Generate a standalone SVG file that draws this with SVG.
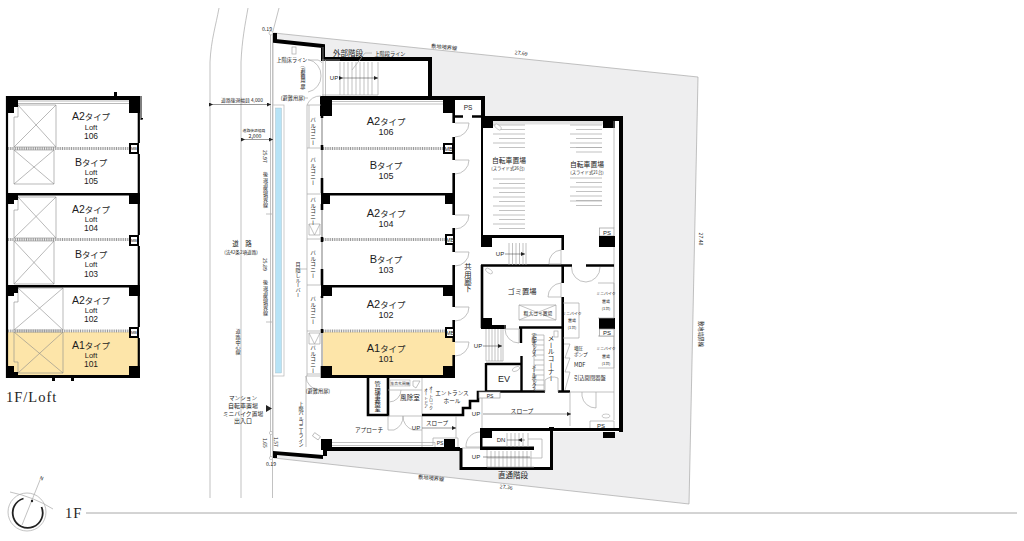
<svg xmlns="http://www.w3.org/2000/svg" xmlns:xlink="http://www.w3.org/1999/xlink" width="1024" height="541" viewBox="0 0 1024 541">
<style>
text{font-family:"Noto Sans CJK JP","Noto Sans",sans-serif;fill:#1c1c1c}
.l{font-family:"Liberation Sans","Noto Sans CJK JP",sans-serif;text-anchor:middle}
.s{font-size:5.2px;text-anchor:middle}
.v{writing-mode:vertical-rl;font-size:5.1px}
.vb{writing-mode:vertical-rl;font-size:5.7px}
.vm{writing-mode:vertical-rl;font-size:7.3px}
.g{fill:none;stroke:#a8a8a8;stroke-width:.7}
.g2{fill:none;stroke:#8a8a8a;stroke-width:.6}
.k{fill:none;stroke:#000}
.w{fill:#000}
.dot{fill:none;stroke:#9a9a9a;stroke-width:3;stroke-dasharray:1 .8}
.win{fill:none;stroke:#bdbdbd;stroke-width:2}
.a{fill:none;stroke:#333;stroke-width:.5}
.mb{fill:#fff;stroke:#000;stroke-width:2}
.ps{fill:#fff;stroke:#999;stroke-width:.7}
.ser{font-family:"Liberation Serif",serif;font-size:14.5px;letter-spacing:1px;fill:#222}
.j{font-size:8.4px}
</style>
<defs>
<marker id="ah" markerWidth="5" markerHeight="4" refX="4" refY="2" orient="auto" markerUnits="userSpaceOnUse"><path d="M0 0L4 2L0 4z" fill="#222"/></marker>
<marker id="as" markerWidth="5" markerHeight="4" refX="1" refY="2" orient="auto-start-reverse" markerUnits="userSpaceOnUse"><path d="M4 0L0 2L4 4z" fill="#222"/></marker>
<path id="door" d="M0 0H14A14 14 0 0 1 0 14" class="g"/>
<path id="stripe" d="M0 0h32M6 4.500h26M0 9h32M6 13.500h26M0 18h32M6 22.500h26" class="g"/>
</defs>

<g id="site">
<path d="M274 33L698 77L689 504L274 458Z" fill="#eeeeef" stroke="#a8a8a8" stroke-width=".7"/>
<path d="M274 42L322 47V60H430V98H483V117H623V432H553V470H460V449H323V456L274 452Z" fill="#fff"/>
</g>

<g id="road">
<path class="g" d="M219 8C216 25 211 40 210 62V498M248 8C245 25 242 40 241 62V498"/>
<path class="g" d="M279 8L272.500 33V498M270.500 33V458"/>
<circle cx="271" cy="33" r="2" fill="#fff" stroke="#a8a8a8" stroke-width=".6"/>
<circle cx="271" cy="433" r="1.600" fill="#fff" stroke="#a8a8a8" stroke-width=".6"/>
<circle cx="271" cy="458" r="1.600" fill="#fff" stroke="#a8a8a8" stroke-width=".6"/>
<rect x="273" y="105" width="11" height="271" fill="#fff" stroke="#b5b5b5" stroke-width=".7"/>
<rect x="275.500" y="108" width="6" height="265" fill="#b7e3f6" stroke="#9fb8c4" stroke-width=".4"/>
</g>

<g id="loft-plan">
<rect x="8" y="332" width="130" height="43" fill="#fde5a9"/>
<g class="g2">
<path d="M18 105H56V147H14V117H18Z"/><path d="M18 105L56 147M56 105L14 147"/>
<path d="M14 150H54V184H14ZM14 150L54 184M54 150L14 184"/>
<path d="M18 197H56V238H14V210H18Z"/><path d="M18 197L56 238M56 197L14 238"/>
<path d="M14 241H54V284H14ZM14 241L54 284M54 241L14 284"/>
<path d="M18 288H63V330H14V302H18Z"/><path d="M18 288L63 330M63 288L14 330"/>
<path d="M14 332H63V373H18V362H14Z"/><path d="M14 332L63 373M63 332L18 373"/>
<path d="M18 101H129M18 103.500H129"/>
</g>
<path class="k" stroke-width="2.200" d="M7 96V378M138.800 96V143M138.800 154V235M138.800 246V327M138.800 338V378"/>
<path class="dot" d="M8 148.500H129M8 239.500H129M8 331H129"/>
<path d="M6 96H140V113H129V100H18V107H14V113H6ZM6 193H140V204H129V195.500H18V200H14V204H6ZM6 285H140V296H129V287.500H18V293H14V296H6ZM6 366H14V372H18V375H129V366H140V378H6Z" class="w"/>
<rect x="114" y="92" width="3" height="4" class="w"/>
<rect x="52" y="378" width="3" height="3" class="w"/><rect x="71" y="378" width="3" height="3" class="w"/>
<rect x="141" y="118" width="2" height="1.500" class="w"/>
<path class="k" stroke-width="1" d="M141 96V120"/>
<g class="mb"><rect x="130" y="144" width="8" height="9"/><rect x="130" y="236" width="8" height="9"/><rect x="130" y="328" width="8" height="9"/></g>
<text class="l" x="134" y="150" font-size="4">MB</text><text class="l" x="134" y="242" font-size="4">MB</text><text class="l" x="134" y="334" font-size="4">MB</text>
<text class="l" x="91" y="120"><tspan font-size="10.500">A2</tspan><tspan class="j">タイプ</tspan></text><text class="l" x="91" y="130" font-size="7.500">Loft</text><text class="l" x="91" y="139" font-size="8.500">106</text>
<text class="l" x="91" y="166"><tspan font-size="10.500">B</tspan><tspan class="j">タイプ</tspan></text><text class="l" x="91" y="175" font-size="7.500">Loft</text><text class="l" x="91" y="184" font-size="8.500">105</text>
<text class="l" x="91" y="213"><tspan font-size="10.500">A2</tspan><tspan class="j">タイプ</tspan></text><text class="l" x="91" y="222" font-size="7.500">Loft</text><text class="l" x="91" y="231" font-size="8.500">104</text>
<text class="l" x="91" y="258"><tspan font-size="10.500">B</tspan><tspan class="j">タイプ</tspan></text><text class="l" x="91" y="267" font-size="7.500">Loft</text><text class="l" x="91" y="277" font-size="8.500">103</text>
<text class="l" x="91" y="304"><tspan font-size="10.500">A2</tspan><tspan class="j">タイプ</tspan></text><text class="l" x="91" y="313" font-size="7.500">Loft</text><text class="l" x="91" y="322" font-size="8.500">102</text>
<text class="l" x="91" y="349"><tspan font-size="10.500">A1</tspan><tspan class="j">タイプ</tspan></text><text class="l" x="91" y="358" font-size="7.500">Loft</text><text class="l" x="91" y="367" font-size="8.500">101</text>
<text class="ser" x="6" y="402">1F/Loft</text>
</g>

<g id="units">
<rect x="323" y="332" width="132" height="43" fill="#fde5a9"/>
<path class="dot" d="M323 148.500H444M323 239.500H445M323 331H445"/>
<path class="g" d="M332 101.500H443M332 104H443"/>
<path class="win" d="M322 116V145M322 150V178M322 210V237M322 242V269M322 296V329M322 333V366"/>
<path class="k" stroke-width="2.600" d="M322 113V118M322 145V150M322 178V193M322 204V210M322 237V242M322 269V285M322 296V298M322 329V333M322 366V378"/>
<path class="k" stroke-width="2.600" d="M453.700 96V123M453.700 137V160M453.700 173V215M453.700 228V252M453.700 265V307M453.700 320V342M453.700 355V378"/>
<path class="w" d="M320 96H485V116H481V100H455V113H443V100H332V116H320ZM321 193H455V204H445V195.500H330V204H321ZM321 285H455V296H443V287.500H332V296H321ZM321 366H332V375H443V366H455V378H321Z"/>
<path class="k" d="M455 116.500H463M472 116.500H481" stroke-width="2.500"/>
<g class="mb"><rect x="444" y="144" width="9" height="9"/><rect x="446" y="235" width="8" height="9"/><rect x="446" y="328" width="8" height="9"/></g>
<text class="l" x="448.500" y="151" font-size="5.500">MB</text><text class="l" x="450" y="242" font-size="5.500">MB</text><text class="l" x="450" y="335" font-size="5.500">MB</text>
<text class="l" x="468" y="110" font-size="6.500">PS</text>
<use xlink:href="#door" x="455" y="123"/><use xlink:href="#door" x="455" y="160"/><use xlink:href="#door" x="455" y="215"/><use xlink:href="#door" x="455" y="252"/><use xlink:href="#door" x="455" y="307"/><use xlink:href="#door" x="455" y="342"/>
<text class="l" x="386" y="125"><tspan font-size="11">A2</tspan><tspan class="j">タイプ</tspan></text><text class="l" x="386" y="135" font-size="9">106</text>
<text class="l" x="386" y="169"><tspan font-size="11">B</tspan><tspan class="j">タイプ</tspan></text><text class="l" x="386" y="179" font-size="9">105</text>
<text class="l" x="386" y="217"><tspan font-size="11">A2</tspan><tspan class="j">タイプ</tspan></text><text class="l" x="386" y="227" font-size="9">104</text>
<text class="l" x="386" y="263"><tspan font-size="11">B</tspan><tspan class="j">タイプ</tspan></text><text class="l" x="386" y="273" font-size="9">103</text>
<text class="l" x="386" y="308"><tspan font-size="11">A2</tspan><tspan class="j">タイプ</tspan></text><text class="l" x="386" y="318" font-size="9">102</text>
<text class="l" x="386" y="352"><tspan font-size="11">A1</tspan><tspan class="j">タイプ</tspan></text><text class="l" x="386" y="362" font-size="9">101</text>
</g>

<g id="balcony">
<path class="g" d="M307 105V376M309 105V148M307 105H321M307 148H321M307 194H321M307 239H321M307 285H321M307 331H321M307 374H321"/>
<path class="g" d="M309 224H320V235H309ZM309 224L314.500 235L320 224M309 333H320V344H309ZM309 333L314.500 344L320 333"/>
<text class="vb" x="313" y="117">バルコニー</text><text class="vb" x="313" y="157">バルコニー</text><text class="vb" x="313" y="197">バルコニー</text><text class="vb" x="313" y="250">バルコニー</text><text class="vb" x="313" y="296">バルコニー</text><text class="vb" x="313" y="345">バルコニー</text>
<path class="g" d="M306 376V447M306 376H320M306 376A14 14 0 0 0 320 390"/>
<text class="s" x="318" y="392.500">(避難用扉)</text>
<path class="g" d="M307 269H298"/>
<text class="v" x="298" y="262">目隠しルーバー</text>
</g>

<g id="outer-stairs">
<path class="k" stroke-width="4" d="M275 33V41L323 46V59H430V98"/>
<path class="g" d="M323 47V96M325.500 60V96M321 76A16 16 0 0 0 308 59.500M321 76A16 16 0 0 1 308 92M321 96A14 14 0 0 0 307 105M322 60H340M322 95H378"/>
<path class="g" d="M340 62V95M344 62V95M348 62V95M352 62V95M356 62V95M360 62V95M364 62V95M368 62V95M372 62V95M378 62V95M352 70L365 53H372"/>
<path class="a" d="M342 78H378" marker-end="url(#ah)" marker-start="url(#as)"/>
<text class="l" x="334" y="80" font-size="6">UP</text>
<text class="s" x="348" y="56" style="font-size:7.500px">外部階段</text>
<text class="s" x="390" y="56">上階段ライン</text>
<text class="s" x="292" y="62">上階床ライン</text>
<path class="g" d="M308 60H318Q321 61 322 63"/>
<rect x="292" y="47" width="4" height="7" class="g"/>
<text class="v" x="303" y="66">(避難用扉)</text>
<text class="s" x="293" y="100">(避難用扉)</text><path class="g" d="M304 98H308"/>
</g>

<g id="bike-room">
<path class="k" stroke-width="2" d="M482 116V236"/>
<rect x="481" y="116" width="142" height="5" class="w"/>
<path class="w" d="M481 118H493V128H483V120H481ZM603 118H615V128H603ZM481 235H564V238H492V247H481Z"/>
<rect x="493" y="121" width="110" height="3.500" fill="#e3e3e3"/>
<path class="g" d="M614 121V228M614 247V420"/>
<path d="M619 116H623V432H619Z" class="w"/>
<use xlink:href="#stripe" x="493" y="125"/><use xlink:href="#stripe" x="493" y="179"/><use xlink:href="#stripe" x="493" y="206"/><use xlink:href="#stripe" x="570" y="125"/><use xlink:href="#stripe" x="570" y="178"/>
<path class="g" d="M570 147.500h32M576 152h26M570 201h32M576 205.500h26"/>
<ellipse cx="498" cy="127" rx="4" ry="2" transform="rotate(40 498 127)" fill="#fff" stroke="#999" stroke-width=".5"/>
<text class="s" x="509" y="163" style="font-size:6.800px">自転車置場</text><text class="s" x="508" y="170" style="font-size:4.300px">(スライド式26台)</text>
<text class="s" x="587" y="167" style="font-size:6.800px">自転車置場</text><text class="s" x="587" y="174" style="font-size:4.300px">(スライド式21台)</text>
<rect x="599.500" y="228" width="14.500" height="8" class="ps"/>
<text class="l" x="607" y="235" font-size="6">PS</text>
<path class="w" d="M599 236H615V247H599ZM599 318H615V329H599Z"/>
</g>

<g id="mid-core">
<path class="k" stroke-width="2.600" d="M562.700 238V250M562.700 265V283M562.700 297V392"/>
<path class="k" stroke-width="2.600" d="M481 265.500H572M586 265.500H614"/>
<path class="g" d="M509 243V265M512.500 243V265M516 243V265M519.500 243V265M523 243V265M526 243V265"/>
<path class="a" d="M505 254H525" marker-end="url(#ah)"/><text class="l" x="500" y="256" font-size="6">UP</text>
<path class="g" d="M549 264A13 13 0 0 1 561 250V264Z"/>
<path class="g" d="M571.500 267A14.500 14.500 0 0 0 586 282A14.500 14.500 0 0 0 600 267"/>
<path class="k" d="M482 265V328M481 327.500H505M519 327.500H563" stroke-width="2.600"/>
<path class="w" d="M481 318H492V325H506V329H481Z"/>
<ellipse cx="489" cy="271" rx="4" ry="2" transform="rotate(35 489 271)" fill="#fff" stroke="#999" stroke-width=".5"/>
<text class="s" x="522" y="294" style="font-size:7.300px">ゴミ置場</text>
<path class="g" d="M519 305H556V320H519ZM519 305L556 320M556 305L519 320"/>
<text class="s" x="538" y="315" style="font-size:4.800px">粗大ゴミ置場</text>
<path class="g" d="M561 283A14 14 0 0 0 548 297H561Z"/>
<path class="g" d="M505 325V329H519V343A14 14 0 0 1 505 329"/>
<path class="k" stroke-width="2.400" d="M521 328V343M486 364H522M486 363V392M521.500 356V392M486 391.500H545M558 391.500H570"/>
<path class="g" d="M486 329V361H503V329M489 329V361M492 329V361M495 329V361M498 329V361M501 329V361"/>
<path class="a" d="M483 346H502" marker-end="url(#ah)"/><text class="l" x="478" y="348" font-size="6">UP</text>
<text class="l" x="504" y="382" font-size="9">EV</text>
<ellipse cx="516" cy="369" rx="4" ry="2" transform="rotate(-25 516 369)" fill="#fff" stroke="#999" stroke-width=".5"/>
<path class="g" d="M534 335V390H544V335ZM534 340h10M534 345h10M534 350h10M534 355h10M534 360h10M534 365h10M534 370h10M534 375h10M534 380h10M534 385h10"/>
<text class="v" x="534" y="333" style="letter-spacing:-1.300px">宅配ボックス</text><text class="v" x="534" y="364" style="letter-spacing:-1.300px">メールボックス</text>
<text class="vm" x="551" y="335" style="font-size:6.700px">メールコーナー</text>
<rect x="554" y="331" width="4" height="6" class="g"/>
<path class="g" d="M545 392V380A13 13 0 0 1 558 378V392"/>
<path class="g" d="M563 303H579V338H563M598 283H614V318H598M598 336H614V368H598"/>
<text class="s" x="572" y="315" style="font-size:3.900px">ミニバイク</text><text class="s" x="572" y="322" style="font-size:3.900px">置場</text><text class="s" x="572" y="329" style="font-size:3.900px">(1台)</text>
<text class="s" x="606" y="295" style="font-size:3.900px">ミニバイク</text><text class="s" x="606" y="303" style="font-size:3.900px">置場</text><text class="s" x="606" y="310" style="font-size:3.900px">(1台)</text>
<text class="s" x="606" y="350" style="font-size:3.900px">ミニバイク</text><text class="s" x="606" y="358" style="font-size:3.900px">置場</text><text class="s" x="606" y="365" style="font-size:3.900px">(1台)</text>
<rect x="599.500" y="329" width="14.500" height="7" class="ps"/>
<text class="l" x="607" y="335" font-size="6">PS</text>
<path class="g" d="M564 344H570L565 358H570L565 372H570L565 390"/>
<text x="574" y="349.500" style="font-size:4.600px">増圧</text><text x="574" y="355.500" style="font-size:4.600px">ポンプ</text>
<text x="574" y="367" font-size="5.500">MDF</text><text x="574" y="380" style="font-size:5.300px">引込開閉器盤</text>
<path class="g" d="M570 392H614M570 392V426M582 392V396A14 14 0 0 0 596 408V392"/>
<text class="vm" x="468" y="263">共用廊下</text>
</g>

<g id="entrance">
<path class="k" stroke-width="2.600" d="M368 378V415H388V378"/>
<text class="vb" x="377.500" y="381" style="font-size:6.200px">管理事務室</text>
<path class="g" d="M388 390H422M388 416H422M422 378V447M394 430H388V416M413 430H422M403 416A14 14 0 0 1 394 430M403 416A14 14 0 0 0 413 430"/>
<path class="g" d="M401 390A12 12 0 0 1 389 402"/>
<rect x="390" y="380" width="20" height="6" fill="#fff" stroke="#999" stroke-width=".5"/>
<text class="s" x="400" y="385" style="font-size:3.800px">集合玄関機</text>
<path class="g" d="M413 381H420L416 388L413 386Z"/>
<text class="s" x="410" y="400" style="font-size:6.600px">風除室</text>
<text class="v" x="426" y="388" style="font-size:4px">オートドア</text><text class="v" x="431" y="386" style="font-size:4px">オートロック</text>
<text class="s" x="452" y="394.500" style="font-size:5.600px">エントランス</text><text class="s" x="452" y="403" style="font-size:5.600px">ホール</text>
<path class="k" stroke-width="2.600" d="M422 415H463V408H470V401H478V392H486"/>
<rect x="479" y="392" width="21" height="6" class="ps"/><text class="l" x="490" y="397.500" font-size="5">PS</text>
<path class="g" d="M482 398V431M456 416V438"/>
<text class="s" x="522" y="413" style="font-size:5.800px">スロープ</text>
<path class="a" d="M483 414H571" marker-end="url(#ah)"/><text class="l" x="476" y="416" font-size="6">UP</text>
<text class="s" x="437" y="425" style="font-size:5.600px">スロープ</text>
<path class="a" d="M422 428H456" marker-end="url(#ah)"/><text class="l" x="416" y="430" font-size="6">UP</text>
<text class="s" x="369" y="432" style="font-size:5.600px">アプローチ</text>
<path class="g" d="M590 431V421H614V431"/>
<text class="l" x="601" y="428" font-size="6">PS</text>
<ellipse cx="606" cy="416" rx="4" ry="2" fill="#fff" stroke="#999" stroke-width=".5"/>
</g>

<g id="lower-stairs">
<path class="w" d="M323 447H460V451H327V456H323ZM321 439H332V450H321ZM444 439H455V450H444Z"/>
<path d="M273 451L323 455V459L277 455V458H273Z" class="w"/>
<path class="g" d="M332 442.500H435V447M332 445.500H433V438H458V447"/>
<text class="l" x="440" y="445" font-size="5">PS</text>
<path class="k" stroke-width="3" d="M480 429.500H623M461 448V468.500H551.500V431"/>
<path class="w" d="M480 428H492V438H482.500V446.500H534V450H480Z"/>
<rect x="603" y="432" width="12" height="6" class="w"/><rect x="549" y="427" width="5" height="3" class="w"/>
<path class="g" d="M480 432A14 14 0 0 0 466 447H480M462 448H480"/>
<path class="g" d="M507 433V447M511 433V447M515 433V447M519 433V447M523 433V447M528 433V447M528 439H542V458M487 458H542M487 450V467H534M491 451V467M495 451V467M499 451V467M503 451V467M507 451V467M511 451V467M515 451V467M519 451V467M523 451V467M527 451V467M531 451V467"/>
<path class="a" d="M507 440H518M525 440H518" marker-end="url(#ah)"/>
<text class="l" x="501" y="442" font-size="6">DN</text>
<path class="a" d="M483 457H530"/>
<text class="l" x="476" y="459" font-size="6">UP</text>
<text class="s" x="513" y="478" style="font-size:7.500px">直通階段</text>
<rect x="313" y="434" width="7" height="4" transform="rotate(35 316 436)" class="g"/>
</g>

<g id="annotations">
<path class="a" d="M212 104.500H271" marker-start="url(#as)" marker-end="url(#ah)"/>
<text class="s" x="242" y="102" style="font-size:4.800px">道路後退幅員 4,000</text>
<path class="a" d="M244 139.500H273" marker-start="url(#as)" marker-end="url(#ah)"/>
<text class="s" x="254" y="131.500" style="font-size:3.800px">道路後退幅員</text><text class="s" x="255" y="137.500">2,000</text>
<text class="v" x="265.500" y="150">25.97</text><text class="v" x="265.500" y="172">後退道路境界線</text>
<text class="v" x="265.500" y="258">25.89</text><text class="v" x="265.500" y="280">後退道路境界線</text>
<path class="g" d="M266 214H272M266 322H272"/>
<text class="s" x="267" y="31">0.19</text><text class="s" x="271" y="466">0.19</text>
<text class="v" x="265.500" y="438">1.65</text><text class="v" x="276" y="437">1.57</text>
<text class="s" x="242" y="246" style="font-size:6.500px">道　路</text>
<text class="s" x="241" y="254" style="font-size:4.600px">(法42条2項道路)</text>
<text class="v" x="238" y="329">道路中心線</text>
<text class="s" x="243" y="400.300" style="font-size:5.600px">マンション</text><text class="s" x="243" y="408" style="font-size:6px">自転車置場</text><text class="s" x="243" y="415.500" style="font-size:5.800px">ミニバイク置場</text><text class="s" x="243" y="423" style="font-size:6px">出入口</text>
<path d="M266 405L272 408.500L266 412Z" fill="#222"/>
<text class="v" x="301" y="402" style="letter-spacing:-.7px">上階バルコニーライン</text>
<text class="s" x="444" y="49" transform="rotate(6 444 49)">敷地境界線</text>
<text class="s" x="521" y="55" transform="rotate(6 521 55)">27.69</text>
<text class="s" x="431" y="480" transform="rotate(6 431 480)">敷地境界線</text>
<text class="s" x="506" y="489" transform="rotate(6 506 489)">27.36</text>
<text class="s" x="699" y="239" transform="rotate(90 699 239)">27.48</text>
<text class="s" x="699" y="334" transform="rotate(90 699 334)">敷地境界線</text>
</g>

<g id="compass">
<circle cx="27" cy="512" r="19" class="g"/>
<path d="M23.500 498.500A15 15 0 1 0 41.500 507" fill="none" stroke="#222" stroke-width="1.800"/>
<path class="g" d="M10 492Q34 497 53 509M22 525L40 480"/>
<circle cx="32" cy="501" r="1.200" fill="#222"/>
<text class="s" x="41" y="480" transform="rotate(22 41 480)" style="font-size:5px">N</text>
<text class="ser" x="65" y="518">1F</text>
<path class="g" d="M86 513H1017" style="stroke-width:1"/>
</g>
</svg>
